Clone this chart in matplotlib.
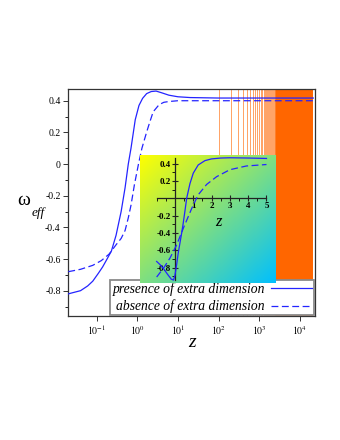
import matplotlib
matplotlib.use('Agg')
import matplotlib.pyplot as plt
import numpy as np
from matplotlib.ticker import FixedLocator

plt.rcParams['font.family'] = ['Liberation Serif', 'DejaVu Serif']
plt.rcParams['mathtext.fontset'] = 'stix'
plt.rcParams['axes.unicode_minus'] = False

# ---- main panel data ----
z_solid = [0.020, 0.04, 0.06, 0.08, 0.11, 0.14, 0.18, 0.23, 0.30, 0.40, 0.50,
           0.60, 0.70, 0.89, 1.10, 1.35, 1.70, 2.20, 2.90, 4.0, 6.0, 10.0,
           20.0, 100.0, 21600.0]
w_solid = [-0.82, -0.80, -0.77, -0.74, -0.69, -0.65, -0.60, -0.55, -0.45,
           -0.30, -0.15, 0.0, 0.10, 0.28, 0.37, 0.415, 0.445, 0.458, 0.461,
           0.45, 0.435, 0.425, 0.42, 0.417, 0.417]

z_dash = [0.020, 0.04, 0.08, 0.13, 0.20, 0.23, 0.30, 0.40, 0.50, 0.60, 0.70,
          0.85, 1.07, 1.30, 1.69, 2.0, 2.46, 3.44, 4.5, 6.0, 10.0, 21600.0]
w_dash = [-0.68, -0.665, -0.64, -0.61, -0.57, -0.55, -0.51, -0.47, -0.42,
          -0.34, -0.26, -0.13, 0.0, 0.10, 0.20, 0.26, 0.33, 0.375, 0.39,
          0.395, 0.40, 0.40]

orange_lines = [100, 200, 300, 400, 500, 600, 700, 800, 900, 1000, 1100,
                1200, 1300, 1400, 1500, 1600, 1700, 1800, 1900, 2000, 2100,
                2200, 2300, 2400, 2500]
orange_band = [2550, 21600]

main_xticks = [0.1, 1, 10, 100, 1000, 10000]
main_xticklabels = [r'$10^{-1}$', r'$10^{0}$', r'$10^{1}$', r'$10^{2}$',
                    r'$10^{3}$', r'$10^{4}$']
main_yticks = [-0.8, -0.6, -0.4, -0.2, 0.0, 0.2, 0.4]
main_yticklabels = ['-0.8', '-0.6', '-0.4', '-0.2', '0', '0.2', '0.4']
main_yminor = [-0.9, -0.7, -0.5, -0.3, -0.1, 0.1, 0.3]

legend_labels = ['presence of extra dimension', 'absence of extra dimension']

# ---- inset data ----
zi_solid = [-1.0, -0.8, -0.6, -0.4, -0.2, -0.08, 0.0, 0.09, 0.18, 0.27, 0.36,
            0.45, 0.55, 0.64, 0.82, 1.0, 1.27, 1.64, 2.0, 2.5, 3.0, 4.0, 5.0]
wi_solid = [-0.73, -0.77, -0.82, -0.88, -0.935, -0.945, -0.89, -0.77, -0.63,
            -0.52, -0.41, -0.29, -0.14, 0.0, 0.17, 0.29, 0.385, 0.435, 0.455,
            0.465, 0.468, 0.465, 0.46]

zi_dash = [-1.0, -0.6, -0.27, 0.09, 0.45, 0.91, 1.27, 1.73, 2.28, 3.0, 3.9, 5.0]
wi_dash = [-0.91, -0.80, -0.69, -0.54, -0.35, -0.12, 0.04, 0.16, 0.25, 0.33,
           0.373, 0.39]

inset_xticks = [1, 2, 3, 4, 5]
inset_xticklabels = ['1', '2', '3', '4', '5']
inset_yticks = [-0.8, -0.6, -0.4, -0.2, 0.2, 0.4]
inset_yticklabels = ['-0.8', '-0.6', '-0.4', '-0.2', '0.2', '0.4']

BLUE = '#2424ff'
ORANGE = '#ff6600'

fig = plt.figure(figsize=(3.4, 4.4), dpi=100)
ax = fig.add_axes([0.2009, 0.2818, 0.7256, 0.5159])

ax.vlines(orange_lines, 0, 1, transform=ax.get_xaxis_transform(),
          colors=ORANGE, lw=0.5, alpha=0.85, zorder=1)
ax.axvspan(orange_band[0], orange_band[1], color=ORANGE, lw=0, zorder=1)

l1, = ax.plot(z_solid, w_solid, color=BLUE, lw=0.9, zorder=3)
l2, = ax.plot(z_dash, w_dash, color=BLUE, lw=0.9, dashes=(5.5, 2.8), zorder=3)

ax.set_xscale('log')
ax.set_xlim(0.020, 23800)
ax.set_ylim(-0.96, 0.474)
ax.set_xticks(main_xticks)
ax.set_xticklabels(main_xticklabels, fontsize=7)
ax.xaxis.set_minor_locator(FixedLocator([]))
ax.set_yticks(main_yticks)
ax.set_yticklabels(main_yticklabels, fontsize=7)
ax.yaxis.set_minor_locator(FixedLocator(main_yminor))
ax.tick_params(direction='out', length=3.5, width=0.7, color='#333333', pad=2)
ax.tick_params(which='minor', length=2, width=0.6)
for s in ax.spines.values():
    s.set_color('#333333')
    s.set_linewidth(0.9)

ax.text(0.5, -0.1176, 'z', transform=ax.transAxes, fontsize=14,
        style='italic', ha='center', va='center')
fig.text(24 / 340, 1 - 200 / 440, 'ω', fontsize=14, ha='center', va='center')
fig.text(38 / 340, 1 - 213 / 440, 'eff', fontsize=9.5, style='italic',
         ha='center', va='center')

leg = ax.legend([l1, l2], legend_labels, loc='lower right',
                bbox_to_anchor=(0.998, 0.0), borderaxespad=0.05,
                markerfirst=False, fancybox=False, framealpha=1,
                edgecolor='#8a8a8a', handlelength=3.0,
                handletextpad=0.45, labelspacing=0.28, borderpad=0.15,
                prop={'style': 'italic', 'size': 9.8})
leg.get_frame().set_linewidth(1.3)

# ---- inset ----
ins = fig.add_axes([140 / 340, 1 - 283 / 440, 136 / 340, 128 / 440])
xl = (-1.91, 5.52)
yl = (-0.979, 0.50)
H, W = 120, 120
u = np.linspace(0, 1, W)[None, :]
v = np.linspace(0, 1, H)[:, None]
t = (u + v) / 2.0
c0 = np.array([1.0, 1.0, 0.0])
c1 = np.array([0.0, 0.75, 1.0])
img = c0[None, None, :] * (1 - t[..., None]) + c1[None, None, :] * t[..., None]
ins.imshow(img, extent=[xl[0], xl[1], yl[0], yl[1]], aspect='auto',
           origin='upper', zorder=0, interpolation='bilinear')
ins.plot(zi_solid, wi_solid, color=BLUE, lw=0.9, zorder=3)
ins.plot(zi_dash, wi_dash, color=BLUE, lw=0.9, dashes=(5.5, 2.8), zorder=3)
ins.set_xlim(*xl)
ins.set_ylim(*yl)
ins.spines['left'].set_position(('data', 0))
ins.spines['bottom'].set_position(('data', 0))
ins.spines['left'].set_bounds(-0.95, 0.47)
ins.spines['bottom'].set_bounds(-1, 5)
ins.spines['top'].set_visible(False)
ins.spines['right'].set_visible(False)
for s in ('left', 'bottom'):
    ins.spines[s].set_linewidth(0.9)
    ins.spines[s].set_color('#222222')
ins.set_xticks(inset_xticks)
ins.set_xticklabels(inset_xticklabels, fontsize=6.5, fontweight='bold')
ins.set_yticks(inset_yticks)
ins.set_yticklabels(inset_yticklabels, fontsize=6.5, fontweight='bold')
ins.xaxis.set_minor_locator(FixedLocator([-1, -0.5, 0.5, 1.5, 2.5, 3.5, 4.5]))
ins.yaxis.set_minor_locator(FixedLocator([-0.9, -0.7, -0.5, -0.3, -0.1, 0.1, 0.3]))
ins.tick_params(direction='inout', length=4, width=0.8, color='#222222', pad=1)
ins.tick_params(which='minor', length=2, width=0.6)
ins.text(2.35, -0.27, 'z', fontsize=12, style='italic', ha='center', va='center')

fig.savefig('out.png', dpi=100)
